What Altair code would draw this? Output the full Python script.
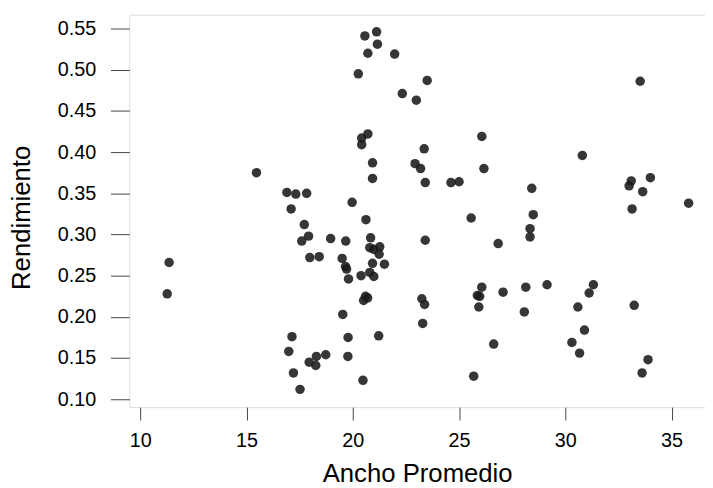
import altair as alt
import pandas as pd

ancho = [11.36, 11.27, 15.47, 20.57, 21.12, 21.16, 20.71, 21.97, 20.26, 23.50,
         22.33, 22.99, 20.71, 20.42, 20.42, 23.36, 20.93, 22.93, 23.19, 20.93,
         23.41, 24.62, 25.00, 16.90, 17.32, 17.83, 17.10, 19.97, 25.57, 17.72,
         20.62, 17.92, 17.60, 18.96, 19.67, 20.84, 23.41, 20.80, 20.99, 21.27,
         21.24, 33.52, 26.07, 26.17, 30.80, 33.10, 33.00, 34.00, 33.64, 33.14,
         35.80, 28.42, 28.49, 28.34, 28.34, 26.84, 17.98, 18.42, 19.50, 19.66,
         19.71, 19.80, 20.39, 20.93, 21.49, 20.80, 20.99, 20.60, 20.70, 20.51,
         19.53, 19.78, 21.22, 19.77, 17.14, 16.99, 17.95, 18.29, 18.73, 18.26,
         17.21, 17.52, 20.48, 23.25, 23.38, 23.29, 25.69, 26.07, 25.86, 25.97,
         25.93, 27.07, 28.14, 28.07, 29.14, 26.63, 31.32, 31.12, 30.59, 30.90,
         30.31, 30.67, 33.24, 33.89, 33.61]

rendimiento = [0.266, 0.228, 0.375, 0.541, 0.546, 0.531, 0.520, 0.519, 0.495, 0.487,
               0.471, 0.463, 0.422, 0.417, 0.409, 0.404, 0.387, 0.386, 0.380, 0.368,
               0.363, 0.363, 0.364, 0.351, 0.349, 0.350, 0.331, 0.339, 0.320, 0.312,
               0.318, 0.298, 0.292, 0.295, 0.292, 0.296, 0.293, 0.284, 0.282, 0.285,
               0.276, 0.486, 0.419, 0.380, 0.396, 0.365, 0.359, 0.369, 0.352, 0.331,
               0.338, 0.356, 0.324, 0.307, 0.297, 0.289, 0.272, 0.273, 0.271, 0.261,
               0.258, 0.246, 0.250, 0.265, 0.264, 0.254, 0.249, 0.225, 0.223, 0.220,
               0.203, 0.175, 0.177, 0.152, 0.176, 0.158, 0.145, 0.152, 0.154, 0.141,
               0.132, 0.112, 0.123, 0.222, 0.215, 0.192, 0.128, 0.236, 0.226, 0.225,
               0.212, 0.230, 0.236, 0.206, 0.239, 0.167, 0.239, 0.229, 0.212, 0.184,
               0.169, 0.156, 0.214, 0.148, 0.132]

x_ticks = [10, 15, 20, 25, 30, 35]
y_ticks = [0.10, 0.15, 0.20, 0.25, 0.30, 0.35, 0.40, 0.45, 0.50, 0.55]

df = pd.DataFrame({"Ancho": ancho, "Rendimiento": rendimiento})

FONT = "Liberation Sans"

chart = alt.Chart(df).mark_circle(
    size=92, color="#1a1a1a", opacity=0.88
).encode(
    x=alt.X("Ancho:Q",
            scale=alt.Scale(domain=[9.488, 36.57], nice=False, zero=False),
            axis=alt.Axis(values=x_ticks, title="Ancho Promedio", grid=False,
                          domain=False, tickSize=13, tickColor="#444",
                          labelFontSize=20, labelFont=FONT, labelColor="#000",
                          labelPadding=11, format="d",
                          titleFontSize=26, titleFont=FONT, titleFontWeight="normal",
                          titleColor="#000", titleBaseline="alphabetic",
                          titleY=75)),
    y=alt.Y("Rendimiento:Q",
            scale=alt.Scale(domain=[0.0904, 0.5668], nice=False, zero=False),
            axis=alt.Axis(values=y_ticks, title="Rendimiento", grid=False,
                          domain=False, tickSize=19, tickColor="#444",
                          labelFontSize=20, labelFont=FONT, labelColor="#000",
                          labelPadding=15, format=".2f",
                          titleFontSize=26, titleFont=FONT, titleFontWeight="normal",
                          titleColor="#000", titleBaseline="alphabetic",
                          titleAngle=270, titleX=-101, titleY=205)),
).properties(
    width=582.3,
    height=397,
    autosize=alt.AutoSizeParams(type="none"),
    padding={"left": 122.7, "top": 4, "right": 0, "bottom": 78},
).configure_view(
    stroke="#444", strokeWidth=1
).configure(background="white")

chart.save("out.html", embed_options={"renderer": "svg", "actions": False})
